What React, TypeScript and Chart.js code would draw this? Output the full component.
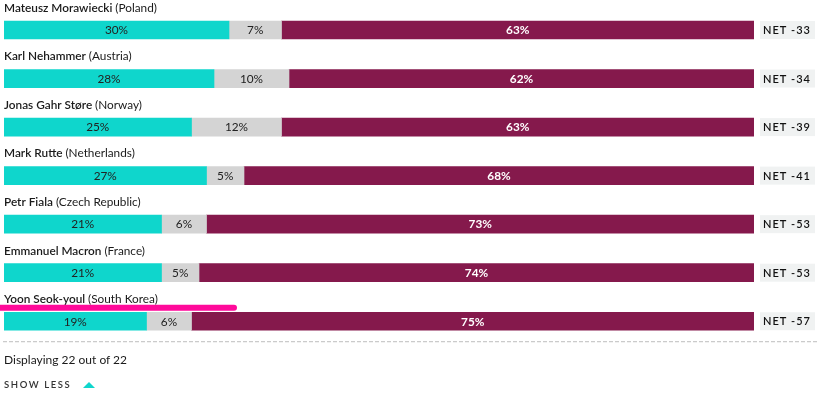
import React, { useEffect, useRef } from "react";
import { Chart, registerables } from "chart.js";

Chart.register(...registerables);

const leaders = [
  "Mateusz Morawiecki",
  "Karl Nehammer",
  "Jonas Gahr Støre",
  "Mark Rutte",
  "Petr Fiala",
  "Emmanuel Macron",
  "Yoon Seok-youl",
];
const countries = ["Poland", "Austria", "Norway", "Netherlands", "Czech Republic", "France", "South Korea"];
const approve = [30, 28, 25, 27, 21, 21, 19];
const noOpinion = [7, 10, 12, 5, 6, 5, 6];
const disapprove = [63, 62, 63, 68, 73, 74, 75];
const netLabels = ["NET -33", "NET -34", "NET -39", "NET -41", "NET -53", "NET -53", "NET -57"];

const TEAL = "#0fd6cc";
const GRAY = "#d4d4d4";
const MAROON = "#85194c";
const FONT = "Lato, 'Open Sans', sans-serif";

const overlayPlugin = {
  id: "overlay",
  afterDatasetsDraw(chart: any) {
    const ctx = chart.ctx as CanvasRenderingContext2D;
    ctx.save();
    const metas = [0, 1, 2].map((i) => chart.getDatasetMeta(i));
    const area = chart.chartArea;
    leaders.forEach((name, i) => {
      const bar0 = metas[0].data[i];
      const y = bar0.y;
      const h = bar0.height;
      // name label
      ctx.textBaseline = "middle";
      ctx.textAlign = "left";
      ctx.fillStyle = "#1a1a1a";
      ctx.font = `600 11.8px ${FONT}`;
      const ly = y - 22;
      ctx.fillText(name, 4, ly);
      const w = ctx.measureText(name + " ").width;
      ctx.font = `400 11.8px ${FONT}`;
      ctx.fillText(`(${countries[i]})`, 4 + w, ly);
      // segment values
      [approve, noOpinion, disapprove].forEach((arr, k) => {
        const el = metas[k].data[i];
        const cx = (el.base + el.x) / 2;
        if (k === 2) {
          ctx.fillStyle = "#ffffff";
          ctx.font = `700 11.8px ${FONT}`;
        } else {
          ctx.fillStyle = "#222222";
          ctx.font = `400 11.8px ${FONT}`;
        }
        ctx.textAlign = "center";
        ctx.fillText(`${arr[i]}%`, cx, y + 0.5);
      });
      // net box
      const bx = area.right + 6;
      ctx.fillStyle = "#f0f2f2";
      ctx.fillRect(bx, y - h / 2, 55, h);
      ctx.fillStyle = "#111111";
      ctx.font = `600 11px ${FONT}`;
      ctx.textAlign = "left";
      (ctx as any).letterSpacing = "1px";
      ctx.fillText(netLabels[i], bx + 3, y + 0.5);
      (ctx as any).letterSpacing = "0px";
    });
    // highlight stroke
    const last = metas[0].data[leaders.length - 1];
    ctx.strokeStyle = "#ff0a9a";
    ctx.lineWidth = 6;
    ctx.lineCap = "round";
    ctx.beginPath();
    ctx.moveTo(-10, last.y - 13.5);
    ctx.lineTo(234, last.y - 13.5);
    ctx.stroke();
    // dashed separator
    ctx.strokeStyle = "#bdbdbd";
    ctx.lineWidth = 1;
    ctx.lineCap = "butt";
    ctx.setLineDash([4, 2]);
    ctx.beginPath();
    ctx.moveTo(3, last.y + 20.5);
    ctx.lineTo(819, last.y + 20.5);
    ctx.stroke();
    ctx.restore();
  },
};

export default function App() {
  const ref = useRef<HTMLCanvasElement>(null);
  useEffect(() => {
    document.body.style.margin = "0";
    const chart = new Chart(ref.current!, {
      type: "bar",
      data: {
        labels: leaders,
        datasets: [
          { label: "Approve", data: approve, backgroundColor: TEAL },
          { label: "No opinion", data: noOpinion, backgroundColor: GRAY },
          { label: "Disapprove", data: disapprove, backgroundColor: MAROON },
        ],
      },
      options: {
        indexAxis: "y",
        responsive: false,
        animation: false,
        maintainAspectRatio: false,
        layout: { padding: { left: 4, right: 65, top: 5.75, bottom: 53.5 } },
        datasets: { bar: { barThickness: 18, borderWidth: 0 } },
        scales: {
          x: { stacked: true, min: 0, max: 100, display: false },
          y: { stacked: true, display: false },
        },
        plugins: { legend: { display: false }, tooltip: { enabled: false } },
      },
      plugins: [overlayPlugin],
    });
    return () => chart.destroy();
  }, []);
  return (
    <div style={{ position: "relative", width: 819, height: 399, fontFamily: FONT }}>
      <canvas ref={ref} width={819} height={399} style={{ position: "absolute", left: 0, top: 0 }} />
      <div style={{ position: "absolute", left: 4, top: 351, fontSize: 12, color: "#1a1a1a", lineHeight: "18px" }}>
        Displaying 22 out of 22
      </div>
      <div
        style={{
          position: "absolute",
          left: 4,
          top: 378,
          fontSize: 9.5,
          fontWeight: 600,
          letterSpacing: "1.6px",
          color: "#333",
          lineHeight: "14px",
          display: "flex",
          alignItems: "center",
        }}
      >
        SHOW LESS
        <span
          style={{
            display: "inline-block",
            marginLeft: 12,
            width: 0,
            height: 0,
            borderLeft: "6px solid transparent",
            borderRight: "6px solid transparent",
            borderBottom: "6px solid " + TEAL,
          }}
        />
      </div>
    </div>
  );
}
